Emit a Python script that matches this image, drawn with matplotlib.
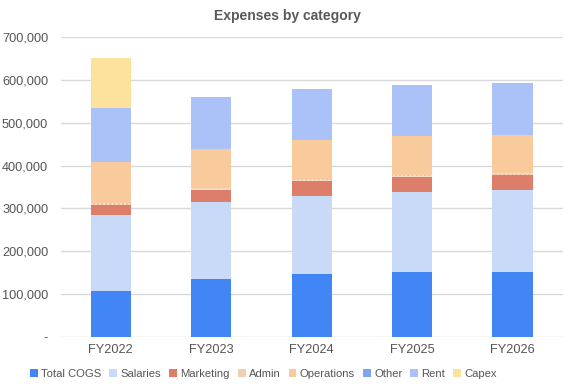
import numpy as np
import matplotlib.pyplot as plt
from matplotlib.patches import Patch
from matplotlib.ticker import FuncFormatter

plt.rcParams['font.family'] = ['Liberation Sans', 'DejaVu Sans']

years = ['FY2022', 'FY2023', 'FY2024', 'FY2025', 'FY2026']

total_cogs = [107000, 135000, 146000, 151000, 151000]
salaries = [177000, 179000, 184000, 188000, 191000]
marketing = [25000, 30000, 35000, 35000, 35000]
admin = [3500, 4000, 4000, 4000, 5000]
operations = [95000, 91000, 90000, 91000, 90000]
other = [2000, 0, 0, 0, 0]
rent = [124000, 121000, 120000, 119000, 121000]
capex = [118000, 0, 0, 0, 0]

names = ['Total COGS', 'Salaries', 'Marketing', 'Admin', 'Operations', 'Other', 'Rent', 'Capex']
series = [total_cogs, salaries, marketing, admin, operations, other, rent, capex]
colors = ['#4285f4', '#c9daf8', '#dd7e6b', '#f4dcc6', '#f9cb9c', '#ffffff', '#abc2f8', '#fce29c']
legend_colors = ['#4285f4', '#c9daf8', '#dd7e6b', '#eccfb4', '#f9cb9c', '#7ea5ee', '#abc2f8', '#fce29c']
edge = [None, None, None, '#e6b896', None, '#6d9eeb', None, None]
hatches = [None, None, None, '....', None, '....', None, None]

fig = plt.figure(figsize=(5.74, 3.9), dpi=100)
ax = fig.add_axes([0.1057, 0.1359, 0.8746, 0.7691])

x = np.arange(len(years))
bottom = np.zeros(len(years))
handles = []
for name, vals, c, lc, ec, h in zip(names, series, colors, legend_colors, edge, hatches):
    vals = np.array(vals, dtype=float)
    if h:
        plt.rcParams['hatch.color'] = ec
        plt.rcParams['hatch.linewidth'] = 0.8
        ax.bar(x, vals, 0.4, bottom=bottom, color=c, hatch=h, linewidth=0, zorder=3)
    else:
        ax.bar(x, vals, 0.4, bottom=bottom, color=c, linewidth=0, zorder=3)
    bottom += vals
    handles.append(Patch(facecolor=lc, label=name))

ax.set_xlim(-0.5, 4.5)
ax.set_ylim(0, 700000)
ax.set_yticks(np.arange(0, 700001, 100000))
ax.yaxis.set_major_formatter(FuncFormatter(lambda v, p: '-' if v == 0 else f'{int(v):,}'))
ax.set_xticks(x)
ax.set_xticklabels(years)
ax.grid(axis='y', color='#d9d9d9', linewidth=1, zorder=0)
for s in ax.spines.values():
    s.set_visible(False)
ax.tick_params(length=0, labelsize=9.2, colors='#555555')
ax.tick_params(axis='y', pad=9)
ax.tick_params(axis='x', pad=5)

fig.text(0.5, 0.958, 'Expenses by category', ha='center', va='center',
         fontsize=10, fontweight='bold', color='#595959')

fig.legend(handles=handles, loc='center', bbox_to_anchor=(0.459, 0.041), ncol=8,
           frameon=False, fontsize=8.1, handlelength=0.7, handleheight=0.7,
           handletextpad=0.3, columnspacing=0.7, labelcolor='#555555',
           borderaxespad=0, borderpad=0)

fig.savefig('out.png', dpi=100)
